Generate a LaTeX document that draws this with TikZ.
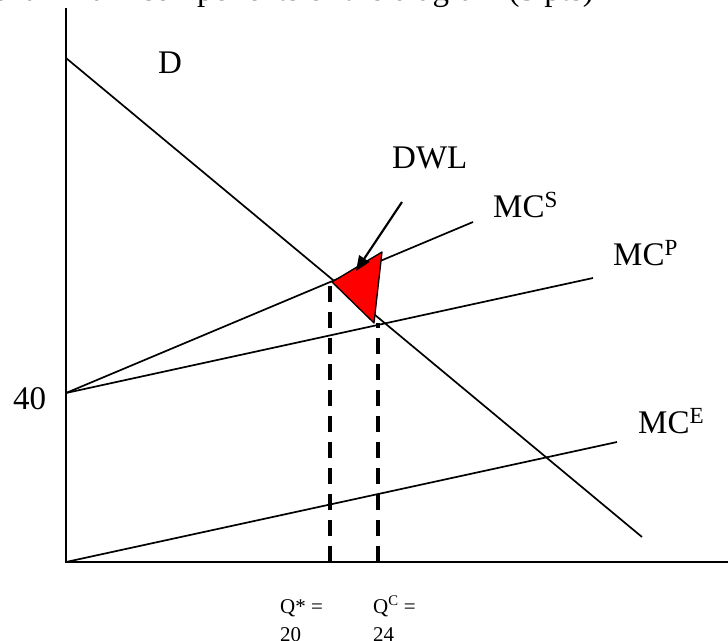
\documentclass[tikz,border=0pt]{standalone}
\usepackage{fontspec}
\setmainfont{Liberation Serif}
\usetikzlibrary{arrows.meta}
\begin{document}
\begin{tikzpicture}[x=1pt,y=-1pt,
  lbl/.style={inner sep=0pt,anchor=base west,font=\fontsize{33}{38}\selectfont},
  qlbl/.style={inner sep=0pt,anchor=base west,align=left,font=\fontsize{21}{28}\selectfont},
  axis/.style={line width=2.4pt},
  curve/.style={line width=1.7pt},
  guide/.style={line width=3.2pt,dash pattern=on 16pt off 10pt},
  dwl/.style={fill=red,draw=black,line width=1.3pt,line join=round},
  pointer/.style={line width=2.2pt,-{Triangle[length=15pt,width=12pt]}}]
\useasboundingbox (0,0) rectangle (728,640);
% clipped heading
\node[inner sep=0pt,anchor=base east,font=\fontsize{33}{38}\selectfont] (head) at (594,0) {Label all main components of the diagram (5 pts)};
% axes
\coordinate (O) at (66,562);
\coordinate (ytop) at (66,8);
\coordinate (xend) at (728,562);
\draw[axis] (ytop) -- (O) -- (xend);
% curves
\coordinate (D0) at (66,58);
\coordinate (D1) at (642,537);
\coordinate (P40) at (66,393);
\coordinate (S1) at (473,222);
\coordinate (P1) at (593,278);
\coordinate (E1) at (617,442);
\draw[curve] (D0) -- (D1);
\draw[curve] (P40) -- (S1);
\draw[curve] (P40) -- (P1);
\draw[curve] (O) -- (E1);
% dashed guides
\coordinate (QsTop) at (330,281);
\coordinate (QsBot) at (330,562);
\coordinate (QcTop) at (378,323);
\coordinate (QcBot) at (378,562);
\draw[guide] (QsBot) -- (QsTop);
\draw[guide] (QcBot) -- (QcTop);
% deadweight loss triangle
\coordinate (T1) at (332,282);
\coordinate (T2) at (382,252);
\coordinate (T3) at (374,323);
\draw[dwl] (T1) -- (T2) -- (T3) -- cycle;
% labels
\node[lbl] (Dl) at (158,73) {D};
\node[lbl] (dwllbl) at (392,168) {DWL};
\node[lbl] (MCS) at (493,217) {MC\textsuperscript{S}};
\node[lbl] (MCP) at (613,265) {MC\textsuperscript{P}};
\node[lbl] (MCE) at (638,433) {MC\textsuperscript{E}};
\node[lbl] (forty) at (13,409) {40};
\node[qlbl] (Qs) at (280,641) {Q* =\\20};
\node[qlbl] (Qc) at (373,641) {Q\textsuperscript{C} =\\24};
% pointer arrow
\coordinate (A0) at (402,202);
\coordinate (A1) at (356,271);
\draw[pointer] (A0) -- (A1);
\end{tikzpicture}
\end{document}
